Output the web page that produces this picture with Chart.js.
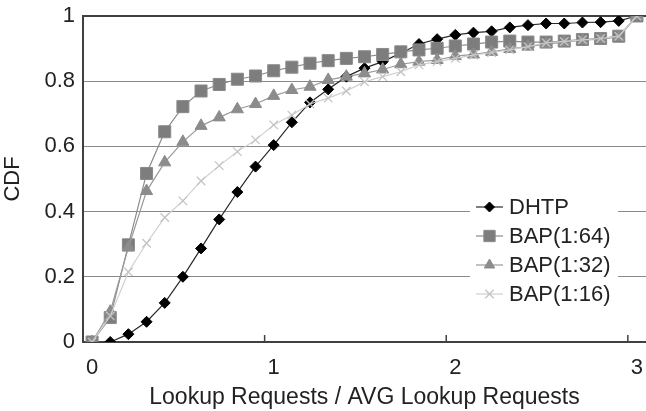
<!DOCTYPE html>
<html><head><meta charset="utf-8">
<script src="https://cdn.jsdelivr.net/npm/chart.js@4/dist/chart.umd.min.js"></script>
<style>html,body{margin:0;padding:0;background:#fff;}#wrap{width:646px;height:411px;}</style>
</head><body><div id="wrap"><canvas id="c" width="646" height="411"></canvas></div>
<script>
// categories: Lookup Requests / AVG Lookup Requests, step 0.1
const xCategories = ['0','0.1','0.2','0.3','0.4','0.5','0.6','0.7','0.8','0.9','1','1.1','1.2','1.3','1.4','1.5','1.6','1.7','1.8','1.9','2','2.1','2.2','2.3','2.4','2.5','2.6','2.7','2.8','2.9','3'];
const xTickLabels = ['0','1','2','3'];
const yTickValues = [0, 0.2, 0.4, 0.6, 0.8, 1];
const seriesNames = ['DHTP','BAP(1:64)','BAP(1:32)','BAP(1:16)'];
const dhtp  = [null,0.0,0.024,0.062,0.12,0.2,0.287,0.376,0.46,0.538,0.604,0.674,0.735,0.775,0.814,0.84,0.86,0.886,0.914,0.929,0.942,0.949,0.953,0.965,0.972,0.977,0.977,0.98,0.981,0.985,1.0];
const bap64 = [0,0.075,0.298,0.517,0.645,0.722,0.77,0.79,0.806,0.816,0.832,0.843,0.855,0.863,0.87,0.875,0.882,0.89,0.896,0.901,0.908,0.914,0.92,0.923,0.92,0.92,0.923,0.928,0.931,0.938,1.0];
const bap32 = [0,0.093,0.29,0.463,0.551,0.614,0.663,0.689,0.714,0.73,0.755,0.773,0.783,0.804,0.814,0.824,0.836,0.852,0.86,0.865,0.877,0.882,0.89,0.899,0.906,0.914,0.92,0.926,0.929,0.936,1.0];
const bap16 = [0,0.08,0.215,0.303,0.382,0.433,0.494,0.541,0.584,0.62,0.666,0.696,0.73,0.748,0.77,0.798,0.814,0.829,0.85,0.86,0.87,0.88,0.888,0.896,0.906,0.918,0.922,0.927,0.931,0.938,1.0];

const FONT = "'Liberation Sans', Arial, sans-serif";
Chart.defaults.font.family = FONT;
Chart.defaults.font.size = 22;
Chart.defaults.color = '#222';

const overlay = {
  id: 'overlay',
  afterDatasetsDraw(chart) {
    const {ctx} = chart;
    const x = chart.scales.x, y = chart.scales.y;
    ctx.save();
    // inward tick marks on category axis
    ctx.strokeStyle = '#404040'; ctx.lineWidth = 1.5;
    for (let k = 1; k < xTickLabels.length; k++) {
      const px = (x.getPixelForValue(k * 10 - 1) + x.getPixelForValue(k * 10)) / 2;
      ctx.beginPath(); ctx.moveTo(px, y.bottom); ctx.lineTo(px, y.bottom - 7); ctx.stroke();
    }
    // legend
    const bx = 470, by = 195, bw = 148, bh = 114;
    ctx.fillStyle = '#fff';
    ctx.fillRect(bx, by, bw, bh);
    const rows = [207, 236, 265, 294];
    chart.data.datasets.forEach((ds, i) => {
      const ry = rows[i];
      ctx.strokeStyle = ds.borderColor; ctx.lineWidth = ds.borderWidth;
      ctx.beginPath(); ctx.moveTo(476, ry); ctx.lineTo(503, ry); ctx.stroke();
      ctx.fillStyle = ds.pointBackgroundColor; ctx.strokeStyle = ds.pointBorderColor;
      ctx.lineWidth = ds.pointBorderWidth;
      Chart.helpers.drawPoint(ctx, {pointStyle: ds.pointStyle, radius: ds.legendRadius, rotation: 0, borderWidth: ds.pointBorderWidth}, 489.5, ry);
      ctx.fillStyle = '#222';
      ctx.font = '22px ' + FONT;
      ctx.textBaseline = 'middle'; ctx.textAlign = 'left';
      ctx.fillText(ds.label, 509, ry + 1);
    });
    ctx.restore();
  }
};

new Chart(document.getElementById('c'), {
  type: 'line',
  data: {
    labels: xCategories,
    datasets: [
      {label: seriesNames[0], data: dhtp, order: 4, borderColor: '#2a2a2a', borderWidth: 1.2,
       pointStyle: 'rectRot', pointRadius: 5.5, legendRadius: 5, pointBackgroundColor: '#000', pointBorderColor: '#000', pointBorderWidth: 1},
      {label: seriesNames[1], data: bap64, order: 3, borderColor: '#8a8a8a', borderWidth: 1.2,
       pointStyle: 'rect', pointRadius: 8.5, legendRadius: 8, pointBackgroundColor: '#7d7d7d', pointBorderColor: '#8a8a8a', pointBorderWidth: 1},
      {label: seriesNames[2], data: bap32, order: 2, borderColor: '#9a9a9a', borderWidth: 1.2,
       pointStyle: 'triangle', pointRadius: 7, legendRadius: 6, pointBackgroundColor: '#8c8c8c', pointBorderColor: '#8c8c8c', pointBorderWidth: 1},
      {label: seriesNames[3], data: bap16, order: 1, borderColor: '#cfcfcf', borderWidth: 1.2,
       pointStyle: 'crossRot', pointRadius: 6, legendRadius: 6, pointBackgroundColor: '#c4c4c4', pointBorderColor: '#c4c4c4', pointBorderWidth: 1.3}
    ]
  },
  options: {
    responsive: false,
    animation: false,
    events: [],
    layout: {autoPadding: false, padding: {top: 16, right: 0, left: 0, bottom: 0}},
    elements: {line: {tension: 0}},
    plugins: {legend: {display: false}, tooltip: {enabled: false}},
    scales: {
      x: {
        type: 'category', offset: true,
        grid: {display: false, drawTicks: false},
        border: {display: true, color: '#404040', width: 2},
        ticks: {autoSkip: false, maxRotation: 0, minRotation: 0, padding: 13, color: '#222',
          callback: (v, idx) => (idx % 10 === 0 ? xTickLabels[idx / 10] : '')},
        title: {display: true, text: 'Lookup Requests / AVG Lookup Requests', color: '#222', font: {size: 23}, padding: {top: 0, bottom: 0}},
        afterFit: s => { s.height = 69; s.paddingLeft = 0; s.paddingRight = 0; }
      },
      y: {
        min: 0, max: 1,
        afterBuildTicks: s => { s.ticks = yTickValues.map(v => ({value: v})); },
        grid: {drawTicks: false,
          color: c => c.tick && c.tick.value === 1 ? '#404040' : (c.tick && c.tick.value === 0 ? 'rgba(0,0,0,0)' : '#8a8a8a'),
          lineWidth: c => c.tick && c.tick.value === 1 ? 2 : 1},
        border: {display: true, color: '#404040', width: 2},
        ticks: {padding: 8, color: '#222', callback: v => String(+(+v).toFixed(1))},
        title: {display: true, text: 'CDF', color: '#222', padding: 0},
        afterFit: s => { s.width = 83; s.paddingTop = 0; s.paddingBottom = 0; }
      }
    }
  },
  plugins: [overlay]
});
</script>
</body></html>
